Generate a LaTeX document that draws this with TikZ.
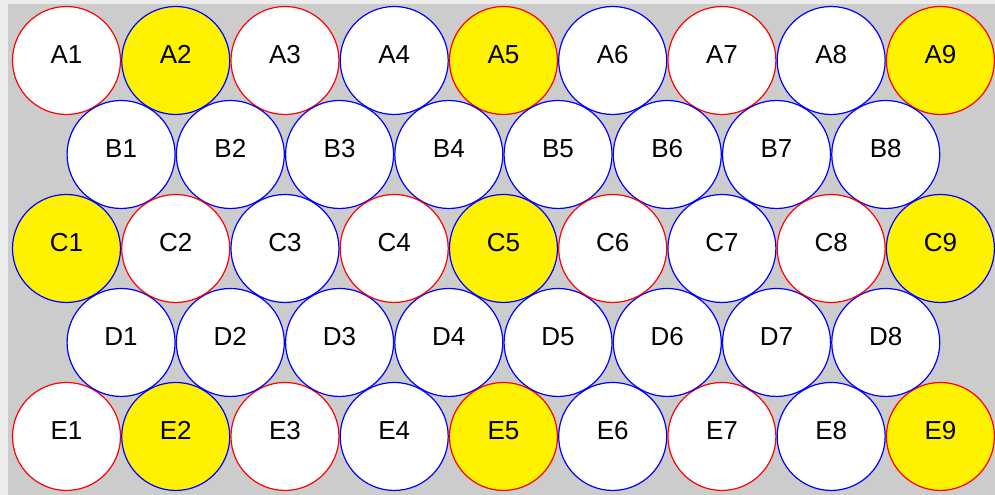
\documentclass[tikz,border=0pt]{standalone}
\usepackage{fontspec}
\setmainfont{Liberation Sans}
\definecolor{platebg}{RGB}{204,204,204}
\definecolor{plateedge}{RGB}{236,236,236}

\begin{document}
\begin{tikzpicture}[x=1pt,y=-1pt,
	wellr/.style={ circle, draw=red, fill=white, line width=1.2pt, inner sep=0pt, minimum size=108pt, text height=18pt, text depth=12pt, font=\fontsize{26}{30}\selectfont },
	wellb/.style={ wellr, draw=blue },
	wellry/.style={ wellr, fill=yellow },
	wellby/.style={ wellb, fill=yellow }
]

\fill[plateedge] (0,0) rectangle (995,495);
\fill[platebg] (8,4) rectangle (995,495);

% rows A and E
\foreach \r/\y in {A/60.5,E/436.5}
  \foreach \i/\s in {1/wellr,2/wellby,3/wellr,4/wellb,5/wellry,6/wellb,7/wellr,8/wellb,9/wellry}
    \node at ({66.5+(\i-1)*109.25},\y) (\r\i) [\s] {\r\i};

% rows B and D
\foreach \r/\y in {B/154.5,D/342.5}
  \foreach \i in {1,...,8}
    \node at ({121.1+(\i-1)*109.25},\y) (\r\i) [wellb] {\r\i};

% row C
\foreach \i/\s in {1/wellby,2/wellr,3/wellb,4/wellr,5/wellby,6/wellr,7/wellb,8/wellr,9/wellby}
  \node at ({66.5+(\i-1)*109.25},248.5) (C\i) [\s] {C\i};

\end{tikzpicture}
\end{document}
